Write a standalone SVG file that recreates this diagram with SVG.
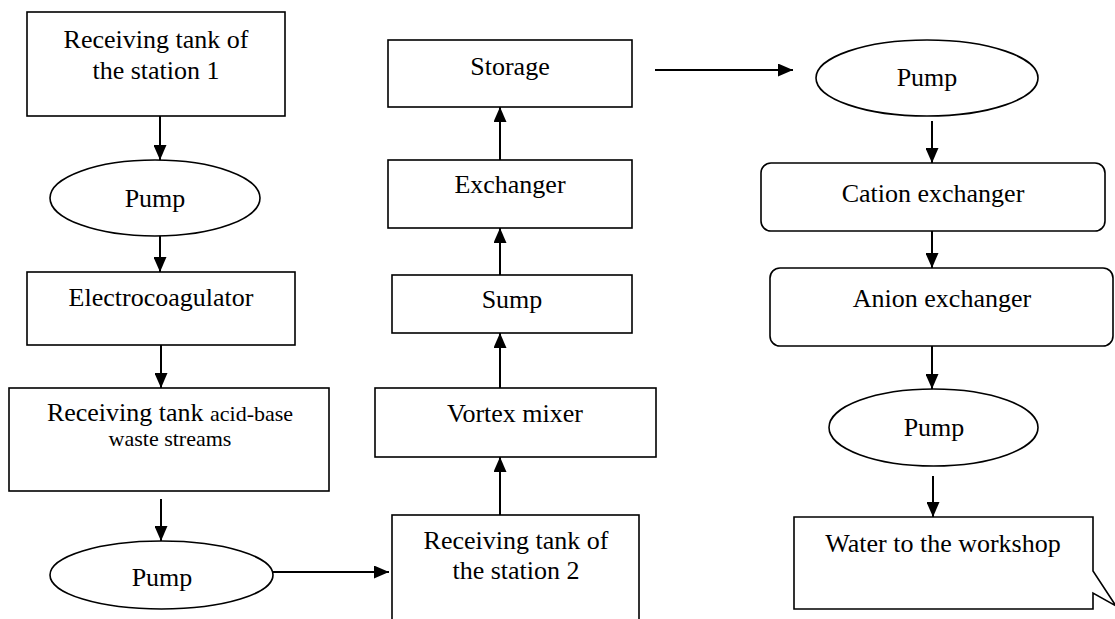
<svg xmlns="http://www.w3.org/2000/svg" width="1115" height="619" viewBox="0 0 1115 619">
<style>
.b{fill:#fff;stroke:#000;stroke-width:1.6}
.t{font-family:"Liberation Serif","Times New Roman",serif;font-size:26px;fill:#000;text-anchor:middle}
.s{font-size:22px}
.c{stroke:#000;stroke-width:2;fill:none;marker-end:url(#ah)}
</style>
<defs>
<marker id="ah" viewBox="0 0 15 13" refX="15" refY="6.5" markerWidth="15" markerHeight="13" markerUnits="userSpaceOnUse" orient="auto">
<path d="M0,0 L15,6.5 L0,13 z" fill="#000"/>
</marker>
</defs>
<rect width="1115" height="619" fill="#fff"/>
<g id="connectors">
<line class="c" x1="160" y1="116" x2="160" y2="160"/>
<line class="c" x1="160" y1="234" x2="160" y2="272"/>
<line class="c" x1="161" y1="345" x2="161" y2="388"/>
<line class="c" x1="161" y1="499" x2="161" y2="541"/>
<line class="c" x1="273" y1="572" x2="389" y2="572"/>
<line class="c" x1="500" y1="515" x2="500" y2="457"/>
<line class="c" x1="500" y1="388" x2="500" y2="333"/>
<line class="c" x1="500" y1="275" x2="500" y2="228"/>
<line class="c" x1="500" y1="160" x2="500" y2="107"/>
<line class="c" x1="655" y1="70" x2="793" y2="70"/>
<line class="c" x1="932" y1="121" x2="932" y2="163"/>
<line class="c" x1="932" y1="226" x2="932" y2="268"/>
<line class="c" x1="932" y1="346" x2="932" y2="389"/>
<line class="c" x1="933" y1="476" x2="933" y2="517"/>
</g>
<g id="tank1">
<rect class="b" x="27" y="12" width="258" height="104"/>
<text class="t" x="156" y="48">Receiving tank of</text>
<text class="t" x="156" y="79">the station 1</text>
</g>
<g id="pump1">
<ellipse class="b" cx="155" cy="198" rx="105" ry="38"/>
<text class="t" x="155" y="207">Pump</text>
</g>
<g id="electrocoagulator">
<rect class="b" x="27" y="272" width="268" height="73"/>
<text class="t" x="161" y="306">Electrocoagulator</text>
</g>
<g id="tank-acid-base">
<rect class="b" x="9" y="388" width="320" height="103"/>
<text class="t" x="170" y="421">Receiving tank <tspan class="s">acid-base</tspan></text>
<text class="t s" x="170" y="446">waste streams</text>
</g>
<g id="pump2">
<ellipse class="b" cx="161.5" cy="575" rx="111.5" ry="34"/>
<text class="t" x="162" y="586">Pump</text>
</g>
<g id="tank2">
<rect class="b" x="392" y="515" width="247" height="140"/>
<text class="t" x="516" y="549">Receiving tank of</text>
<text class="t" x="516" y="579">the station 2</text>
</g>
<g id="vortex-mixer">
<rect class="b" x="375" y="388" width="281" height="69"/>
<text class="t" x="515" y="422">Vortex mixer</text>
</g>
<g id="sump">
<rect class="b" x="392" y="275" width="240" height="58"/>
<text class="t" x="512" y="308">Sump</text>
</g>
<g id="exchanger">
<rect class="b" x="388" y="160" width="244" height="68"/>
<text class="t" x="510" y="193">Exchanger</text>
</g>
<g id="storage">
<rect class="b" x="388" y="40" width="244" height="67"/>
<text class="t" x="510" y="75">Storage</text>
</g>
<g id="pump3">
<ellipse class="b" cx="927" cy="78" rx="111" ry="38"/>
<text class="t" x="927" y="86">Pump</text>
</g>
<g id="cation-exchanger">
<rect class="b" x="761" y="163" width="344" height="68" rx="10" ry="10"/>
<text class="t" x="933" y="202">Cation exchanger</text>
</g>
<g id="anion-exchanger">
<rect class="b" x="770" y="268" width="343" height="78" rx="10" ry="10"/>
<text class="t" x="942" y="307">Anion exchanger</text>
</g>
<g id="pump4">
<ellipse class="b" cx="933.5" cy="427.5" rx="104.5" ry="38.5"/>
<text class="t" x="934" y="436">Pump</text>
</g>
<g id="water-workshop">
<path class="b" d="M794,517 H1093 V571 L1116,606 L1093,593 V609 H794 Z"/>
<text class="t" x="943" y="552">Water to the workshop</text>
</g>
</svg>
